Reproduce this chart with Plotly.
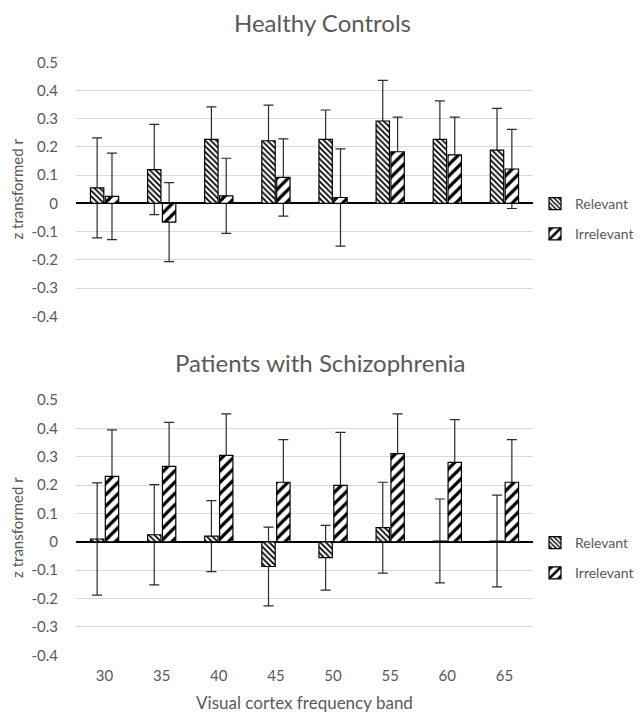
import plotly.graph_objects as go
from plotly.subplots import make_subplots

bands = ["30", "35", "40", "45", "50", "55", "60", "65"]

hc_relevant = [0.055, 0.12, 0.227, 0.222, 0.227, 0.292, 0.227, 0.189]
hc_relevant_err = [0.177, 0.16, 0.115, 0.126, 0.104, 0.144, 0.136, 0.148]
hc_irrelevant = [0.025, -0.066, 0.027, 0.092, 0.021, 0.183, 0.172, 0.122]
hc_irrelevant_err = [0.153, 0.14, 0.133, 0.137, 0.172, 0.123, 0.134, 0.14]

sz_relevant = [0.01, 0.025, 0.02, -0.087, -0.056, 0.05, 0.003, 0.003]
sz_relevant_err = [0.198, 0.177, 0.125, 0.139, 0.114, 0.16, 0.148, 0.162]
sz_irrelevant = [0.231, 0.266, 0.305, 0.21, 0.199, 0.311, 0.28, 0.21]
sz_irrelevant_err = [0.164, 0.155, 0.146, 0.15, 0.187, 0.14, 0.151, 0.15]

y_tickvals = [0.5, 0.4, 0.3, 0.2, 0.1, 0, -0.1, -0.2, -0.3, -0.4]
y_ticktext = ["0.5", "0.4", "0.3", "0.2", "0.1", "0", "-0.1", "-0.2", "-0.3", "-0.4"]

panel_titles = ["Healthy Controls", "Patients with Schizophrenia"]
series_names = ["Relevant", "Irrelevant"]

FONT = "Lato, Carlito, Calibri, sans-serif"
GREY = "#595959"
OFF = 8            # page body margin
W, H = 644 - OFF, 714 - OFF
L, R = 76 - OFF, 533 - OFF   # plot area left/right in figure px
PW = R - L

def py(t):
    return 1 - (t - OFF) / H

def px(t):
    return (t - OFF - L) / PW

fig = make_subplots(rows=2, cols=1)

rel_pattern = dict(shape="\\", fgcolor="black", bgcolor="white", size=4, solidity=0.45, fillmode="replace")
irr_pattern = dict(shape="/", fgcolor="black", bgcolor="white", size=8, solidity=0.4, fillmode="replace")

panels = [
    (hc_relevant, hc_relevant_err, hc_irrelevant, hc_irrelevant_err, "legend"),
    (sz_relevant, sz_relevant_err, sz_irrelevant, sz_irrelevant_err, "legend2"),
]

for i, (rv, re, iv, ie, lg) in enumerate(panels):
    row = i + 1
    # error bars first so the opaque bars cover their inner part
    for vals, errs, grp in [(rv, re, "rel"), (iv, ie, "irr")]:
        fig.add_trace(go.Bar(
            x=bands, y=vals, offsetgroup=grp, showlegend=False, hoverinfo="skip",
            marker=dict(color="rgba(0,0,0,0)", line=dict(width=0)),
            error_y=dict(type="data", array=errs, visible=True, color="#2b2b2b", thickness=1.2, width=5),
        ), row=row, col=1)
    fig.add_trace(go.Bar(
        x=bands, y=rv, offsetgroup="rel", name=series_names[0], legend=lg, legendgroup=f"r{row}",
        marker=dict(color="white", line=dict(color="black", width=1.2), pattern=rel_pattern),
    ), row=row, col=1)
    fig.add_trace(go.Bar(
        x=bands, y=iv, offsetgroup="irr", name=series_names[1], legend=lg, legendgroup=f"i{row}",
        marker=dict(color="white", line=dict(color="black", width=1.2), pattern=irr_pattern),
    ), row=row, col=1)

top_dom = [py(316.3), py(62.3)]
bot_dom = [py(655.3), py(400)]

yaxis_common = dict(
    range=[-0.4, 0.5], tickvals=y_tickvals, ticktext=y_ticktext,
    showgrid=True, gridcolor="#d9d9d9", gridwidth=1,
    zeroline=True, zerolinecolor="black", zerolinewidth=1.5,
    showline=False, ticks="", ticklabelstandoff=17,
    tickfont=dict(family=FONT, size=15, color=GREY),
    title=dict(text="z transformed r", font=dict(family=FONT, size=15, color=GREY), standoff=11),
    automargin=False,
)
legend_common = dict(x=px(535), xanchor="left", yanchor="top", tracegroupgap=9, itemwidth=30,
                     font=dict(family=FONT, size=14, color=GREY), bgcolor="rgba(0,0,0,0)")
fig.update_layout(
    yaxis=dict(domain=top_dom, **yaxis_common),
    yaxis2=dict(domain=bot_dom, **yaxis_common),
    xaxis=dict(showticklabels=False, showgrid=False, showline=False, ticks="", automargin=False),
    xaxis2=dict(showgrid=False, showline=False, ticks="", ticklabelstandoff=10, automargin=False,
                tickfont=dict(family=FONT, size=15, color=GREY),
                title=dict(text="Visual cortex frequency band", font=dict(family=FONT, size=17, color=GREY), standoff=13)),
    barmode="group", bargap=0.48, bargroupgap=0.1,
    width=W, height=H,
    margin=dict(l=L, r=W - R, t=0, b=0),
    plot_bgcolor="white", paper_bgcolor="white",
    font=dict(family=FONT, color=GREY),
    legend=dict(y=py(188), **legend_common),
    legend2=dict(y=py(527), **legend_common),
    annotations=[
        dict(text=panel_titles[0], x=px(322), xref="paper", y=py(23), yref="paper", showarrow=False,
             xanchor="center", yanchor="middle", font=dict(family=FONT, size=24, color=GREY)),
        dict(text=panel_titles[1], x=px(320), xref="paper", y=py(362), yref="paper", showarrow=False,
             xanchor="center", yanchor="middle", font=dict(family=FONT, size=24, color=GREY)),
    ],
)

fig.write_html("out.html")
